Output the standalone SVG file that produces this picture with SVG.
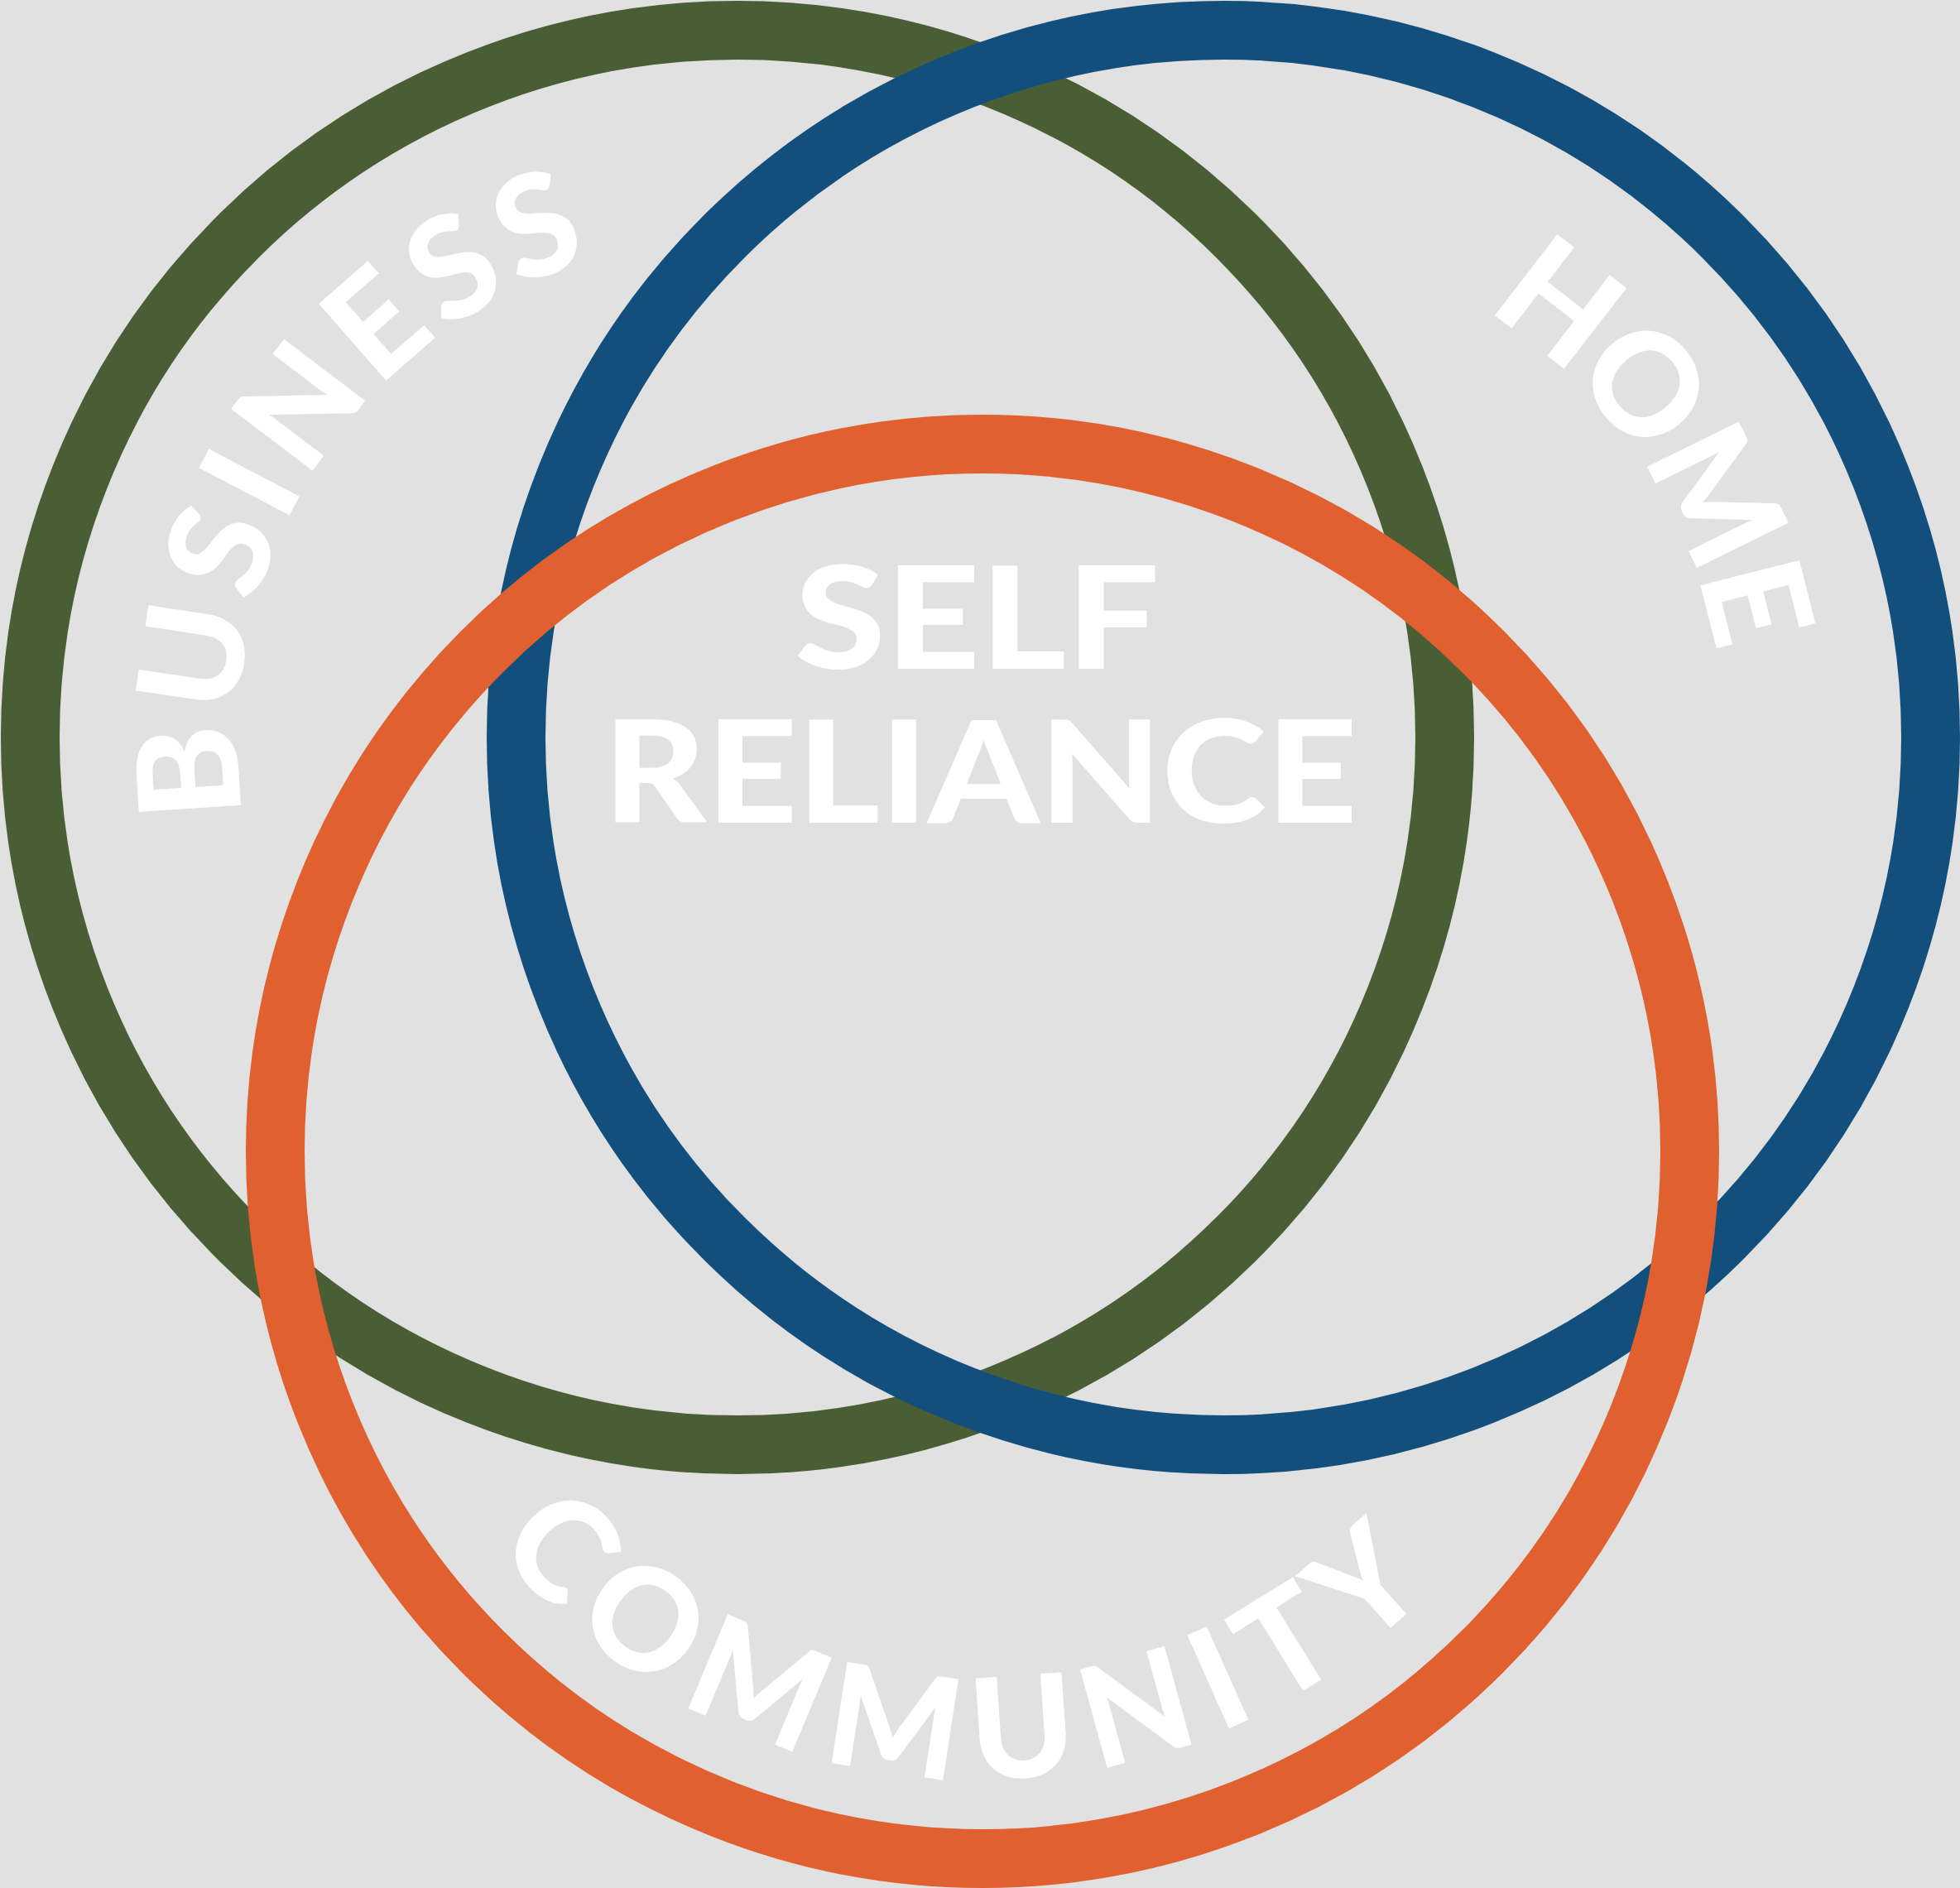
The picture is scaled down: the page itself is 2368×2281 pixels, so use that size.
<svg xmlns="http://www.w3.org/2000/svg" width="2368" height="2281" viewBox="0 0 2368 2281">
  <style>
    .ring { fill: none; stroke-width: 71; }
    .lbl { fill: #ffffff; font-family: Lato, "Open Sans", "Liberation Sans", sans-serif; font-weight: 900; }
  </style>
  <defs>
    <path id="arc-business" d="M 294.4 985.5 A 604 604 0 0 1 891 287"/>
    <path id="arc-home" d="M 1793.6 376 A 604 604 0 0 1 2082 891"/>
    <path id="arc-community" d="M 597.9 1868 A 758 758 0 0 0 1843.5 1770"/>
  </defs>
  <rect x="0" y="0" width="2368" height="2281" fill="#e1e1e1"/>
  <g id="ring-business">
    <circle class="ring" cx="891" cy="891" r="854.5" stroke="#4a5e35"/>
  </g>
  <g id="ring-home">
    <circle class="ring" cx="1478" cy="891" r="854.5" stroke="#134f7d"/>
  </g>
  <g id="ring-community">
    <circle class="ring" cx="1187" cy="1391" r="854.5" stroke="#e1602f"/>
  </g>
  <g id="label-business">
    <text class="lbl" font-size="170"><textPath href="#arc-business" textLength="864" lengthAdjust="spacing">BUSINESS</textPath></text>
  </g>
  <g id="label-home">
    <text class="lbl" font-size="170"><textPath href="#arc-home" textLength="515" lengthAdjust="spacing">HOME</textPath></text>
  </g>
  <g id="label-community">
    <text class="lbl" font-size="170"><textPath href="#arc-community" textLength="1280" lengthAdjust="spacing">COMMUNITY</textPath></text>
  </g>
  <g id="label-self-reliance">
    <text class="lbl" font-size="172" x="960" y="808" textLength="441" lengthAdjust="spacingAndGlyphs">SELF</text>
    <text class="lbl" font-size="172" x="729" y="994" textLength="911" lengthAdjust="spacingAndGlyphs">RELIANCE</text>
  </g>
</svg>
